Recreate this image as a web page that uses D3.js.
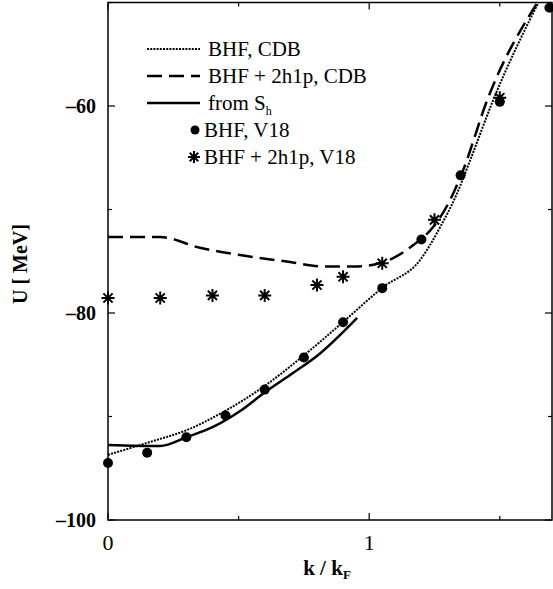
<!DOCTYPE html>
<html>
<head>
<meta charset="utf-8">
<script src="https://cdn.jsdelivr.net/npm/d3@7/dist/d3.min.js"></script>
<style>
  body { margin: 0; background: #fff; }
  svg text { font-family: "Liberation Serif", Tinos, "DejaVu Serif", "Times New Roman", Times, serif; fill: #000; }
</style>
</head>
<body>
<div id="chart"></div>
<script>
// BHF, CDB (dotted)
const kCDB = [0, 0.161, 0.303, 0.441, 0.594, 0.747, 0.900, 1.054, 1.195, 1.272, 1.337, 1.387, 1.475, 1.648];
const uCDB = [-93.7, -92.46, -91.3, -89.57, -87.15, -84.16, -80.87, -77.49, -74.88, -71.69, -68.41, -65.22, -59.42, -50.0];

// BHF + 2h1p, CDB (dashed)
const k2h1pCDB = [0, 0.199, 0.352, 0.506, 0.697, 0.824, 0.954, 1.042, 1.092, 1.169, 1.245, 1.310, 1.360, 1.452, 1.644];
const u2h1pCDB = [-72.66, -72.66, -73.7, -74.4, -75.07, -75.5, -75.5, -75.17, -74.69, -73.43, -71.69, -69.08, -66.18, -59.42, -50.0];

// from S_h (solid)
const kSh = [0, 0.199, 0.303, 0.402, 0.506, 0.602, 0.697, 0.812, 0.954];
const uSh = [-92.75, -92.85, -91.98, -91.01, -89.47, -87.63, -85.99, -83.91, -80.48];

// BHF, V18 (dots)
const kV18 = [0, 0.15, 0.30, 0.45, 0.60, 0.75, 0.90, 1.05, 1.20, 1.35, 1.50, 1.69];
const uV18 = [-94.5, -93.5, -92.0, -89.9, -87.4, -84.3, -80.9, -77.6, -72.9, -66.7, -59.6, -50.5];

// BHF + 2h1p, V18 (stars)
const k2h1pV18 = [0, 0.2, 0.4, 0.6, 0.8, 0.9, 1.05, 1.25, 1.50];
const u2h1pV18 = [-78.55, -78.55, -78.3, -78.3, -77.3, -76.5, -75.2, -71.0, -59.2];

const xMajor = [0, 1];
const xMinor = [0.5, 1.5];
const yMajor = [-100, -80, -60];
const yMinor = [-90, -70, -50];

const FONT = '"Liberation Serif", Tinos, "DejaVu Serif", "Times New Roman", Times, serif';

const W = 553, H = 589;
const margin = { left: 108, right: 1, top: 2.5, bottom: 69 };

const svg = d3.select('#chart').append('svg')
  .attr('width', W).attr('height', H)
  .attr('font-family', FONT);

const x = d3.scaleLinear().domain([0, 1.7]).range([margin.left, W - margin.right]);
const y = d3.scaleLinear().domain([-100, -50]).range([H - margin.bottom, margin.top]);

const x0 = x.range()[0], x1 = x.range()[1];
const y0 = y.range()[0], y1 = y.range()[1];

// frame
svg.append('rect')
  .attr('x', x0).attr('y', y1)
  .attr('width', x1 - x0).attr('height', y0 - y1)
  .attr('fill', 'none').attr('stroke', '#000').attr('stroke-width', 1.5);

// ticks (inward)
const tickG = svg.append('g').attr('stroke', '#000').attr('stroke-width', 1.2);
const addXTicks = (vals, len) => {
  vals.forEach(v => {
    tickG.append('line').attr('x1', x(v)).attr('x2', x(v)).attr('y1', y0).attr('y2', y0 - len);
    tickG.append('line').attr('x1', x(v)).attr('x2', x(v)).attr('y1', y1).attr('y2', y1 + len);
  });
};
const addYTicks = (vals, len) => {
  vals.forEach(v => {
    tickG.append('line').attr('y1', y(v)).attr('y2', y(v)).attr('x1', x0).attr('x2', x0 + len);
    tickG.append('line').attr('y1', y(v)).attr('y2', y(v)).attr('x1', x1).attr('x2', x1 - len);
  });
};
addXTicks(xMajor, 7);
addXTicks(xMinor, 4);
addYTicks(yMajor, 7);
addYTicks(yMinor, 4);

// tick labels
svg.append('g').selectAll('text')
  .data(xMajor).join('text')
  .attr('x', d => x(d)).attr('y', 550)
  .attr('text-anchor', 'middle')
  .attr('font-size', 22)
  .text(d => d);

svg.append('g').selectAll('text')
  .data(yMajor).join('text')
  .attr('x', 96).attr('y', d => y(d) + 7)
  .attr('text-anchor', 'end')
  .attr('font-size', 20).attr('font-weight', 'bold')
  .text(d => '\u2013' + Math.abs(d));

// axis titles
const xt = svg.append('text')
  .attr('x', 327).attr('y', 575)
  .attr('text-anchor', 'middle')
  .attr('font-size', 21).attr('font-weight', 'bold');
xt.append('tspan').text('k / k');
xt.append('tspan').attr('dy', 4).attr('font-size', 13).text('F');

svg.append('text')
  .attr('transform', 'translate(27,264) rotate(-90)')
  .attr('text-anchor', 'middle')
  .attr('font-size', 20).attr('font-weight', 'bold')
  .text('U [ MeV]');

// lines
const line = d3.line()
  .x(d => x(d[0])).y(d => y(d[1]))
  .curve(d3.curveMonotoneX);

const plot = svg.append('g');

plot.append('path')
  .datum(d3.zip(kCDB, uCDB))
  .attr('d', line)
  .attr('fill', 'none').attr('stroke', '#000')
  .attr('stroke-width', 2).attr('stroke-dasharray', '2,1.2');

plot.append('path')
  .datum(d3.zip(k2h1pCDB, u2h1pCDB))
  .attr('d', line)
  .attr('fill', 'none').attr('stroke', '#000')
  .attr('stroke-width', 2.5).attr('stroke-dasharray', '15,7');

plot.append('path')
  .datum(d3.zip(kSh, uSh))
  .attr('d', line)
  .attr('fill', 'none').attr('stroke', '#000')
  .attr('stroke-width', 2.5);

// markers
plot.selectAll('.dot')
  .data(d3.zip(kV18, uV18))
  .join('circle')
  .attr('class', 'dot')
  .attr('cx', d => x(d[0])).attr('cy', d => y(d[1]))
  .attr('r', 5).attr('fill', '#000');

const starPath = r => {
  let p = '';
  for (let i = 0; i < 4; i++) {
    const a = i * Math.PI / 4;
    p += `M${-r * Math.cos(a)},${-r * Math.sin(a)}L${r * Math.cos(a)},${r * Math.sin(a)}`;
  }
  return p;
};

plot.selectAll('.star')
  .data(d3.zip(k2h1pV18, u2h1pV18))
  .join('path')
  .attr('class', 'star')
  .attr('transform', d => `translate(${x(d[0])},${y(d[1])})`)
  .attr('d', starPath(6.5))
  .attr('stroke', '#000').attr('stroke-width', 2);

// legend
const legend = svg.append('g');
const rows = [49, 76, 103, 130, 157];
const lx0 = 147, lx1 = 200, tx = 208;

legend.append('line').attr('x1', lx0).attr('x2', lx1).attr('y1', rows[0]).attr('y2', rows[0])
  .attr('stroke', '#000').attr('stroke-width', 2).attr('stroke-dasharray', '2,1.2');
legend.append('line').attr('x1', lx0).attr('x2', lx1).attr('y1', rows[1]).attr('y2', rows[1])
  .attr('stroke', '#000').attr('stroke-width', 2.5).attr('stroke-dasharray', '15,7');
legend.append('line').attr('x1', lx0).attr('x2', lx1).attr('y1', rows[2]).attr('y2', rows[2])
  .attr('stroke', '#000').attr('stroke-width', 2.5);
legend.append('circle').attr('cx', 195).attr('cy', rows[3]).attr('r', 4.5).attr('fill', '#000');
legend.append('path').attr('transform', `translate(194,${rows[4]})`)
  .attr('d', starPath(6)).attr('stroke', '#000').attr('stroke-width', 2);

const labels = ['BHF, CDB', 'BHF + 2h1p, CDB', null, 'BHF, V18', 'BHF + 2h1p, V18'];
labels.forEach((t, i) => {
  if (!t) return;
  legend.append('text')
    .attr('x', i >= 3 ? 204 : tx).attr('y', rows[i] + 7)
    .attr('font-size', 21)
    .text(t);
});
const sh = legend.append('text').attr('x', tx).attr('y', rows[2] + 7).attr('font-size', 21);
sh.append('tspan').text('from S');
sh.append('tspan').attr('dy', 5).attr('font-size', 12).text('h');
</script>
</body>
</html>
